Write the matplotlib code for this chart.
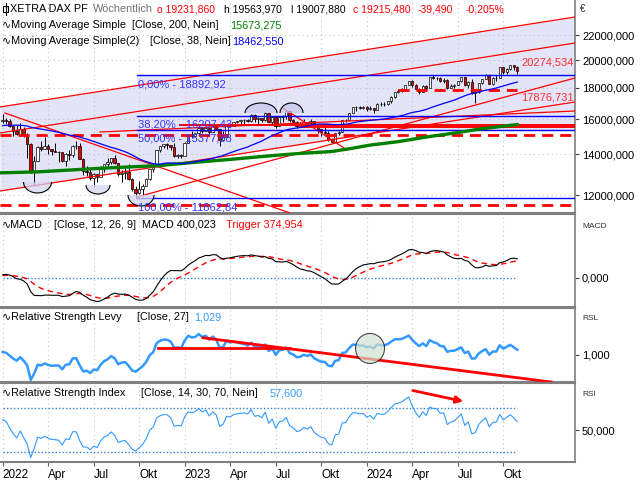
import numpy as np
import pandas as pd
import matplotlib
matplotlib.use("Agg")
import matplotlib.pyplot as plt
from matplotlib.patches import Wedge, Arc, Ellipse
from matplotlib.transforms import Affine2D, ScaledTranslation
from matplotlib.ticker import FixedLocator, FuncFormatter, NullLocator

plt.rcParams['font.family'] = ['Liberation Sans', 'DejaVu Sans']

# weekly closes before the visible range (only used as indicator history)
closes_pre = [15234, 15460, 15280, 15136, 15400, 15417, 15437, 15520, 15693, 15693, 15448, 15607,
              15650, 15688, 15540, 15669, 15544, 15761, 15977, 15808, 15852, 15781, 15610, 15490,
              15532, 15156, 15206, 15587, 15543, 15688, 16054, 16094, 16160, 15257, 15170, 15623,
              15531, 15756, 15885]

# weekly candles, week 0 = 3 Jan 2022
closes = [15948, 15883, 15603, 15318, 15100, 15425, 15042, 14567, 13094, 13628, 14413, 14306, 14446,
          14284, 14164, 14142, 14098, 13674, 14027, 13982, 14462, 14460, 13762, 13126, 13118, 12813,
          13015, 12865, 13254, 13484, 13574, 13795, 13544, 12971, 13050, 13088, 12741, 12284, 12114,
          12273, 12438, 12731, 13243, 13460, 14224, 14431, 14541, 14529, 14371, 13893, 13940, 13924,
          14610, 15086, 15033, 15150, 15476, 15307, 15482, 15209, 15578, 15427, 14768, 14957, 15629,
          15598, 15808, 15882, 15922, 15961, 15914, 16275, 15984, 16051, 15949, 16358, 15830, 16148,
          15603, 16105, 16177, 16469, 15952, 15832, 15574, 15632, 15840, 15740, 15894, 15557, 15387,
          15229, 15186, 14798, 14687, 15189, 15234, 15919, 15967, 16398, 16759, 16751, 16706, 16752,
          16594, 16705, 16555, 16961, 16918, 16927, 17117, 17419, 17735, 17815, 17937, 18206, 18492,
          18175, 17930, 17737, 18161, 18001, 18773, 18704, 18693, 18498, 18557, 18002, 18164, 18235,
          18475, 18748, 18172, 18418, 17661, 17723, 18322, 18633, 18907, 18302, 18699, 18720, 19474,
          19120, 19373, 19657, 19464, 19215]
highs = [16285, 16060, 15990, 15560, 15620, 15736, 15550, 15200, 14600, 13900, 14450, 14700, 14925,
         14550, 14300, 14600, 14200, 14130, 14050, 14250, 14500, 14700, 14600, 13800, 13400, 13300,
         13030, 13000, 13400, 13500, 13800, 13800, 13950, 13500, 13200, 13300, 13500, 12800, 12400,
         12650, 12500, 12800, 13250, 13500, 14250, 14470, 14560, 14630, 14500, 14600, 14000, 14040,
         14650, 15100, 15270, 15200, 15660, 15500, 15580, 15500, 15600, 15706, 15300, 15300, 15660,
         15680, 15820, 15900, 15950, 16000, 16000, 16330, 16300, 16100, 16050, 16427, 16300, 16180,
         16150, 16150, 16250, 16500, 16528, 16000, 15900, 15800, 16000, 15850, 15990, 15900, 15500,
         15400, 15600, 15300, 14900, 15200, 15300, 15950, 16000, 16400, 16780, 16800, 16800, 16800,
         16800, 16800, 16700, 16990, 17050, 17050, 17150, 17450, 17750, 17950, 18000, 18220, 18500,
         18567, 18300, 18000, 18200, 18200, 18800, 18892, 18800, 18750, 18700, 18600, 18300, 18300,
         18500, 18800, 18750, 18500, 18600, 17800, 18350, 18650, 18950, 18990, 18750, 18900, 19500,
         19450, 19400, 19674, 19600, 19564]
lows = [15780, 15700, 15550, 14990, 15080, 15150, 14960, 13800, 13050, 12439, 13700, 14200, 14300,
        14000, 13980, 14100, 13620, 13600, 13380, 13700, 13850, 14300, 13730, 12950, 12900, 12690,
        12390, 12600, 12880, 13100, 13300, 13520, 13500, 12900, 12600, 12750, 12700, 12180, 11862,
        12050, 11950, 12400, 12700, 13100, 13350, 14100, 14320, 14300, 14250, 13860, 13790, 13790,
        13950, 14600, 14900, 14980, 15000, 15200, 15300, 15100, 15220, 15350, 14458, 14800, 15000,
        15500, 15600, 15750, 15700, 15630, 15800, 15800, 15800, 15630, 15850, 15900, 15800, 15630,
        15450, 15600, 15800, 16000, 15800, 15700, 15470, 15500, 15600, 15600, 15600, 15500, 15150,
        15000, 15100, 14750, 14630, 14700, 15050, 15250, 15850, 15950, 16350, 16500, 16600, 16650,
        16500, 16550, 16350, 16550, 16800, 16800, 16850, 17000, 17350, 17650, 17750, 17850, 18200,
        18100, 17850, 17600, 17750, 17800, 18050, 18600, 18550, 18400, 18350, 17950, 18000, 18000,
        18200, 18400, 18150, 18000, 17600, 17024, 17650, 18300, 18600, 18250, 18200, 18500, 18700,
        19000, 19000, 19300, 19300, 19008]

# moving average 200 (green): (week, value)
ma200_weeks = [-1, 10, 28, 45, 56, 66, 75, 85, 94, 100, 105, 113, 122, 130, 136, 142, 147]
ma200_vals = [13050, 13100, 13280, 13420, 13600, 13750, 13900, 14050, 14150, 14330, 14500, 14690,
              14980, 15200, 15400, 15550, 15673]

# fibonacci levels
fib_pct = ["0,00%", "38,20%", "50,00%", "100,00%"]
fib_val = [18892.92, 16207.43, 15377.88, 11862.84]

tick_weeks = [0, 13, 26, 39, 52, 65, 78, 91, 104, 117, 130, 143]
tick_labels = ["2022", "Apr", "Jul", "Okt", "2023", "Apr", "Jul", "Okt", "2024", "Apr", "Jul", "Okt"]

closes = np.array(closes, float)
highs = np.array(highs, float)
lows = np.array(lows, float)
opens = np.concatenate([[closes_pre[-1]], closes[:-1]])
highs = np.maximum(highs, np.maximum(opens, closes))
lows = np.minimum(lows, np.minimum(opens, closes))
n = len(closes)
wk = np.arange(n)

# indicators from the closes
allc = pd.Series(np.concatenate([closes_pre, closes]))
npre = len(closes_pre)
ma38 = allc.rolling(38).mean().values[npre:]
macd_all = allc.ewm(span=12, adjust=False).mean() - allc.ewm(span=26, adjust=False).mean()
trig_all = macd_all.ewm(span=9, adjust=False).mean()
macd = macd_all.values[npre:]
trig = trig_all.values[npre:]
rsl = (allc / allc.rolling(27).mean()).values[npre:]
d = allc.diff()
up = d.clip(lower=0).ewm(alpha=1 / 14, adjust=False).mean()
dn = (-d.clip(upper=0)).ewm(alpha=1 / 14, adjust=False).mean()
rsi = (100 - 100 / (1 + up / dn)).values[npre:]

fig = plt.figure(figsize=(6.4, 4.8), dpi=100)
W, H = 640, 480


def panel(top, bottom):
    return fig.add_axes([0, 1 - bottom / H, 575 / W, (bottom - top) / H])


ax = panel(0, 213)
ax_m = panel(214, 307)
ax_l = panel(308, 382)
ax_r = panel(383, 462)

XL = (-0.77, 163.5)
YL = (11210, 25120)
grid_kw = dict(color='#c4c4c4', ls=(0, (1, 3)), lw=0.8)

for a in (ax, ax_m, ax_l, ax_r):
    a.set_xlim(*XL)
    a.set_facecolor('white')
    a.yaxis.tick_right()
    a.tick_params(axis='y', direction='out', length=3, width=0.8, colors='#404040',
                  labelsize=8, labelcolor='black', pad=2)
    a.tick_params(axis='x', direction='out', length=3, width=0.8, colors='#606060')
    a.set_xticks(tick_weeks)
    a.set_xticklabels([])
    for w in tick_weeks:
        a.axvline(w, zorder=0.5, **grid_kw)
    a.spines['left'].set_visible(False)
    for s in ('top', 'bottom', 'right'):
        a.spines[s].set_color('#808080')
    a.spines['top'].set_linewidth(1.5)
    a.spines['bottom'].set_linewidth(1.5)
    a.spines['right'].set_linewidth(1.2)
ax.spines['top'].set_visible(False)


def px2w(x):
    return (x - 2.7) / 3.5


def py2p(y):
    return YL[1] * np.exp(-y / 264.0)


# main chart
ax.set_yscale('log')
ax.set_ylim(*YL)
yt = [12000, 14000, 16000, 18000, 20000, 22000]
ax.yaxis.set_major_locator(FixedLocator(yt))
ax.yaxis.set_minor_locator(NullLocator())
ax.yaxis.set_major_formatter(FuncFormatter(lambda v, p: "%d,000" % v))
for v in yt:
    ax.axhline(v, zorder=0.5, **grid_kw)

lav = '#e4e4f8'
# channel fill and fibonacci zone fill
cx = [px2w(0), px2w(575)]
ax.fill_between(cx, [py2p(191), py2p(102)], [py2p(107), py2p(17)], color=lav, lw=0, zorder=0.2)
fx0 = px2w(137)
ax.fill_between([fx0, XL[1]], [fib_val[2]] * 2, [fib_val[0]] * 2, color=lav, lw=0, zorder=0.2)


def seg(x0, y0, x1, y1, **kw):
    ax.plot([px2w(x0), px2w(x1)], [py2p(y0), py2p(y1)], **kw)


red = '#ff0000'
thin = dict(color=red, lw=0.9, zorder=4)
seg(0, 107, 575, 17, **thin)
seg(0, 133, 575, 43, **thin)
seg(0, 191, 575, 102, **thin)
seg(137, 197, 575, 78, **thin)
seg(5, 113, 290, 213, **thin)
seg(283, 108, 347, 150, **thin)
seg(100, 132, 575, 111, **thin)
seg(180, 125, 575, 125, color=red, lw=1.4, zorder=4)
seg(300, 127, 575, 127, color=red, lw=1.4, zorder=4)

dash = dict(color=red, lw=2, ls=(0, (4, 2.5)), zorder=4)
ax.plot(XL, [15050, 15050], **dash)
ax.plot(XL, [11570, 11570], **dash)
ax.plot([113, 147], [17876.731, 17876.731], **dash)

# fibonacci
for lab, v in zip(fib_pct, fib_val):
    ax.plot([fx0, XL[1]], [v, v], color='#0000ff', lw=1, zorder=4)
    ax.text(fx0 + 0.2, v * 0.985, "%s - %s" % (lab, ("%.2f" % v).replace('.', ',')),
            color='#3333ff', fontsize=8, va='top', ha='left', zorder=6)

# candles
body = np.abs(closes - opens)
body = np.where(body < 8, 8, body)
cols = np.where(closes >= opens, 'white', '#e00000')
ax.vlines(wk, lows, highs, color='black', lw=0.7, zorder=3)
ax.bar(wk, body, bottom=np.minimum(opens, closes), width=0.7, color=cols,
       edgecolor='black', lw=0.5, zorder=3.5)

# moving averages
ax.plot(ma200_weeks, ma200_vals, color='#008000', lw=2.4, zorder=4.5)
ax.plot(wk, ma38, color='#0000ff', lw=0.9, zorder=4.5)

ax.text(XL[1] - 0.3, 20274.534 * 0.995, "20274,534", color='#ff3030', fontsize=8,
        ha='right', va='top', zorder=6)
ax.text(XL[1] - 0.3, 17876.731 * 0.99, "17876,731", color='#ff3030', fontsize=8,
        ha='right', va='top', zorder=6)


def half_ellipse(a, xw, price, wpx, hpx, upper, fc):
    t = Affine2D().scale(wpx / 2 / 100, hpx / 100) + fig.dpi_scale_trans + \
        ScaledTranslation(xw, price, a.transData)
    th = (0, 180) if upper else (180, 360)
    a.add_patch(Wedge((0, 0), 1, th[0], th[1], transform=t, facecolor=fc, edgecolor='none',
                      alpha=0.75, zorder=5))
    a.add_patch(Arc((0, 0), 2, 2, theta1=th[0], theta2=th[1], transform=t, color='black',
                    lw=0.8, zorder=5))


half_ellipse(ax, px2w(37.5), py2p(182), 28, 11, False, '#d4d4f2')
half_ellipse(ax, px2w(98), py2p(185), 24, 9, False, '#d4d4f2')
half_ellipse(ax, px2w(141), py2p(195), 26, 11, False, '#d4d4f2')
half_ellipse(ax, px2w(261), py2p(113), 32, 10, True, '#c8c8ec')
half_ellipse(ax, px2w(291.5), py2p(113), 23, 10, True, '#c8c8ec')

# MACD
ax_m.set_ylim(-645, 1400)
ax_m.set_yticks([0])
ax_m.yaxis.set_major_formatter(FuncFormatter(lambda v, p: "0,000"))
ax_m.plot([0, n - 1], [0, 0], color='#2f7fd8', lw=1, ls=(0, (1, 1.5)), zorder=2)
ax_m.plot(wk, trig, color=red, lw=1, ls=(0, (4, 3)), zorder=3)
ax_m.plot(wk, macd, color='black', lw=0.8, zorder=4)

# RSL
ax_l.set_ylim(0.835, 1.287)
ax_l.set_yticks([1.0])
ax_l.yaxis.set_major_formatter(FuncFormatter(lambda v, p: "1,000"))
ax_l.plot(wk, rsl, color='#3399ff', lw=1.8, zorder=3)
ax_l.plot([px2w(158), px2w(290)], [1.04, 1.04], color=red, lw=2, zorder=4)
ax_l.plot([px2w(203), px2w(551)], [1.105, 0.835], color=red, lw=2, zorder=4)
t = fig.dpi_scale_trans + ScaledTranslation(px2w(370), 1.04, ax_l.transData)
ax_l.add_patch(Ellipse((0, 0), 0.29, 0.30, transform=t, facecolor='#cfe2cf', edgecolor='black',
                       lw=0.8, alpha=0.7, zorder=5))

# RSI
ax_r.set_ylim(21, 92.7)
ax_r.set_yticks([50])
ax_r.yaxis.set_major_formatter(FuncFormatter(lambda v, p: "50,000"))
for lv in (30, 70):
    ax_r.plot([0, n - 1], [lv, lv], color='#2f7fd8', lw=1, ls=(0, (1, 1.5)), zorder=2)
ax_r.plot(wk, rsi, color='#3399ff', lw=0.8, zorder=3)
ax_r.annotate("", xy=(px2w(466), 75.5), xytext=(px2w(410), 86.4),
              arrowprops=dict(arrowstyle='-|>', color=red, lw=2, mutation_scale=10), zorder=5)

ax_r.set_xticklabels(tick_labels, fontsize=8.5)
for lb in ax_r.get_xticklabels():
    lb.set_horizontalalignment('left')
ax_r.tick_params(axis='x', pad=2, labelcolor='black')


def ftxt(x, y, s, color='black', size=7.8):
    fig.text(x / W, 1 - y / H, s, color=color, fontsize=size, va='center', ha='left')


# header icon
fig.add_artist(plt.Line2D([5.5 / W, 5.5 / W], [1 - 3 / H, 1 - 15 / H], color='black', lw=0.8))
fig.add_artist(plt.Rectangle((3 / W, 1 - 12 / H), 5 / W, 6 / H, facecolor='white',
                             edgecolor='black', lw=0.8))
ftxt(10, 9, "XETRA DAX PF")
ftxt(93, 9, "Wöchentlich", '#707070')
ftxt(157, 9, "o 19231,860", '#ff0000', 7.5)
ftxt(224, 9, "h 19563,970", 'black', 7.5)
ftxt(291, 9, "l 19007,880", 'black', 7.5)
ftxt(353, 9, "c 19215,480", '#ff0000', 7.5)
ftxt(418, 9, "-39,490", '#ff0000', 7.5)
ftxt(466, 9, "-0,205%", '#ff0000', 7.5)
ftxt(2, 25, "∿Moving Average Simple")
ftxt(132, 25, "[Close, 200, Nein]")
ftxt(230, 25, "15673,275", '#008000')
ftxt(2, 41, "∿Moving Average Simple(2)")
ftxt(150, 41, "[Close, 38, Nein]")
ftxt(232, 41, "18462,550", '#0000ff')

ftxt(2, 225, "∿MACD")
ftxt(54, 225, "[Close, 12, 26, 9]  MACD 400,023")
ftxt(226, 225, "Trigger 374,954", '#ff0000')
ftxt(2, 317, "∿Relative Strength Levy")
ftxt(137, 317, "[Close, 27]")
ftxt(194, 317, "1,029", '#3399ff')
ftxt(2, 393, "∿Relative Strength Index")
ftxt(141, 393, "[Close, 14, 30, 70, Nein]")
ftxt(270, 393, "57,600", '#3399ff')

ftxt(580, 9, "€", '#303030', 7)
ftxt(582, 226, "MACD", '#303030', 6)
ftxt(582, 319, "RSL", '#303030', 6)
ftxt(582, 394, "RSI", '#303030', 6)

fig.savefig("out.png", dpi=100)
